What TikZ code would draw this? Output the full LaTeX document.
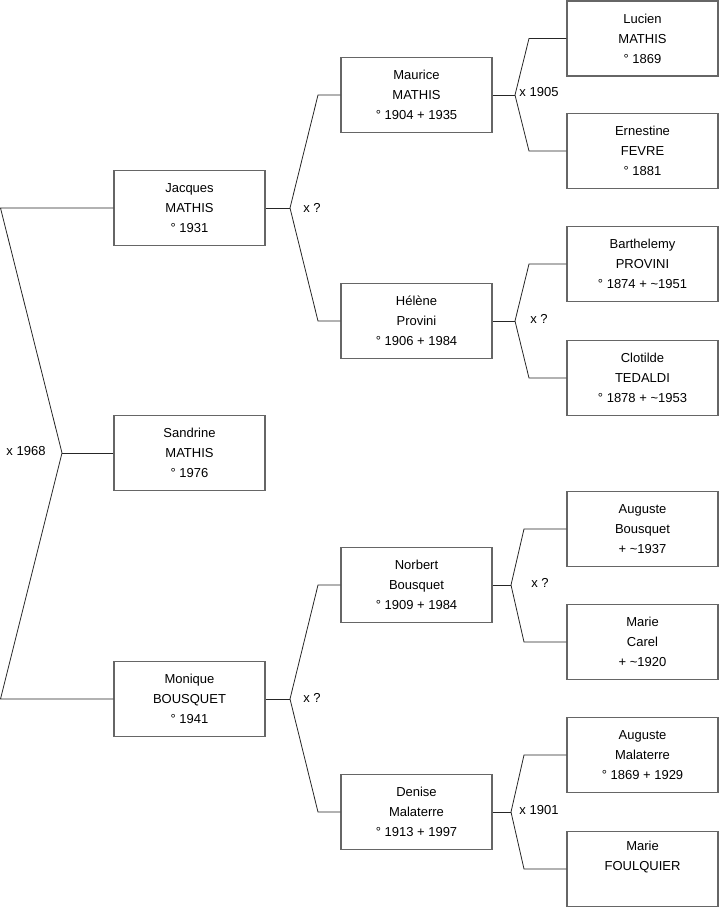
\documentclass[tikz,border=0pt]{standalone}
\usepackage{fontspec}
\setmainfont{Liberation Sans}
\begin{document}
\begin{tikzpicture}[x=1pt, y=-1pt,
  person/.style={draw=black!60, line width=1.5pt, rectangle, minimum width=151pt, minimum height=75pt, align=center, inner sep=0pt, font=\fontsize{13}{20}\selectfont},
  union/.style={inner sep=0pt, font=\fontsize{13}{16}\selectfont},
  link/.style={draw=black!85, line width=0.8pt}]
\useasboundingbox (0,0) rectangle (719,908);
% generation 1
\node[person] (jacques) at (189.5,208) {Jacques\\MATHIS\\° 1931};
\node[person] (sandrine) at (189.5,453) {Sandrine\\MATHIS\\° 1976};
\node[person] (monique) at (189.5,699) {Monique\\BOUSQUET\\° 1941};
% generation 2
\node[person] (maurice) at (416.5,95) {Maurice\\MATHIS\\° 1904 + 1935};
\node[person] (helene) at (416.5,321) {Hélène\\Provini\\° 1906 + 1984};
\node[person] (norbert) at (416.5,585) {Norbert\\Bousquet\\° 1909 + 1984};
\node[person] (denise) at (416.5,812) {Denise\\Malaterre\\° 1913 + 1997};
% generation 3
\node[person] (lucien) at (642.5,38.5) {Lucien\\MATHIS\\° 1869};
\node[person] (ernestine) at (642.5,151) {Ernestine\\FEVRE\\° 1881};
\node[person] (barthelemy) at (642.5,264) {Barthelemy\\PROVINI\\° 1874 + \textasciitilde1951};
\node[person] (clotilde) at (642.5,378) {Clotilde\\TEDALDI\\° 1878 + \textasciitilde1953};
\node[person] (augusteb) at (642.5,529) {Auguste\\Bousquet\\+ \textasciitilde1937};
\node[person] (carel) at (642.5,642) {Marie\\Carel\\+ \textasciitilde1920};
\node[person] (augustem) at (642.5,755) {Auguste\\Malaterre\\° 1869 + 1929};
\node[person] (foulquier) at (642.5,869) {Marie\\FOULQUIER\\\strut};

% junctions and bends
\coordinate (s0) at (62,453);
\coordinate (s1) at (0.5,208);
\coordinate (s2) at (0.5,699);
\coordinate (j0) at (290,208);
\coordinate (j1) at (318,95);
\coordinate (j2) at (318,321);
\coordinate (m0) at (290,699);
\coordinate (m1) at (318,585);
\coordinate (m2) at (318,812);
\coordinate (ma0) at (515,95);
\coordinate (ma1) at (529,38.5);
\coordinate (ma2) at (529,151);
\coordinate (h0) at (515,321);
\coordinate (h1) at (529,264);
\coordinate (h2) at (529,378);
\coordinate (n0) at (511,585);
\coordinate (n1) at (524,529);
\coordinate (n2) at (524,642);
\coordinate (d0) at (511,812);
\coordinate (d1) at (524,755);
\coordinate (d2) at (524,869);

\draw[link] (sandrine.west) -- (s0);
\draw[link] (s0) -- (s1) -- (jacques.west);
\draw[link] (s0) -- (s2) -- (monique.west);
\draw[link] (jacques.east) -- (j0);
\draw[link] (j0) -- (j1) -- (maurice.west);
\draw[link] (j0) -- (j2) -- (helene.west);
\draw[link] (monique.east) -- (m0);
\draw[link] (m0) -- (m1) -- (norbert.west);
\draw[link] (m0) -- (m2) -- (denise.west);
\draw[link] (maurice.east) -- (ma0);
\draw[link] (ma0) -- (ma1) -- (lucien.west);
\draw[link] (ma0) -- (ma2) -- (ernestine.west);
\draw[link] (helene.east) -- (h0);
\draw[link] (h0) -- (h1) -- (barthelemy.west);
\draw[link] (h0) -- (h2) -- (clotilde.west);
\draw[link] (norbert.east) -- (n0);
\draw[link] (n0) -- (n1) -- (augusteb.west);
\draw[link] (n0) -- (n2) -- (carel.west);
\draw[link] (denise.east) -- (d0);
\draw[link] (d0) -- (d1) -- (augustem.west);
\draw[link] (d0) -- (d2) -- (foulquier.west);

% marriages
\node[union] (u1968) at (26,451) {x 1968};
\node[union] (uj) at (312,208) {x ?};
\node[union] (um) at (312,698) {x ?};
\node[union] (u1905) at (539,92) {x 1905};
\node[union] (uh) at (539,319) {x ?};
\node[union] (un) at (540,583) {x ?};
\node[union] (u1901) at (539,810) {x 1901};
\end{tikzpicture}
\end{document}
